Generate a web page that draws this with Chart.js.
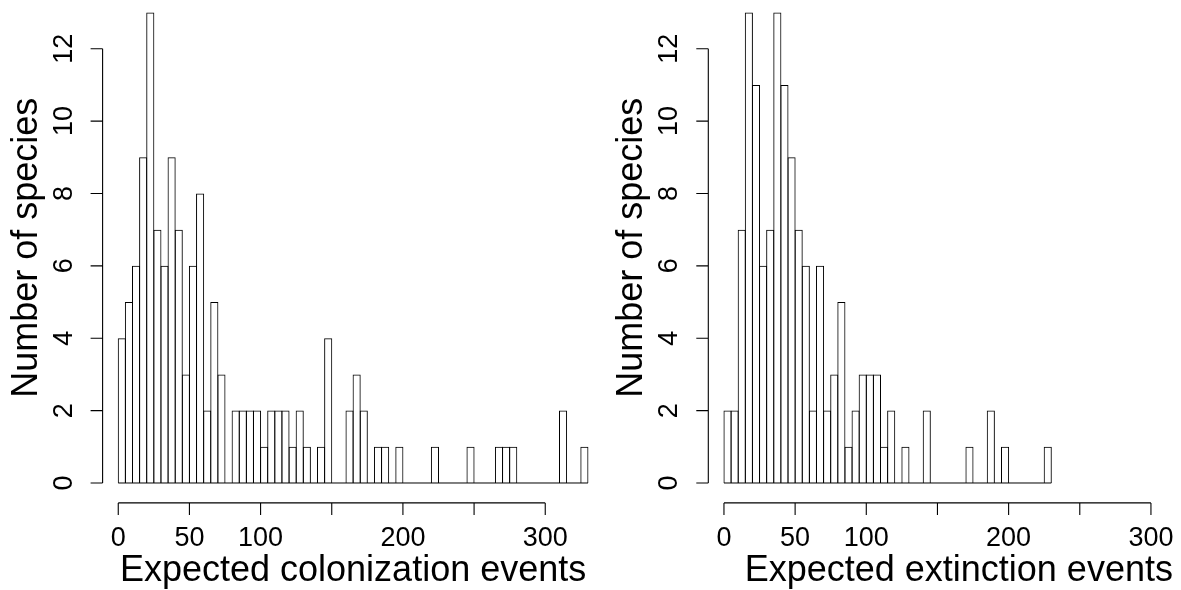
<!DOCTYPE html>
<html lang="en">
  <head>
    <meta charset="UTF-8" />
    <title>Expected colonization and extinction events</title>
    <script src="https://cdn.jsdelivr.net/npm/chart.js"></script>
    <style>
      html, body {
        margin: 0;
        padding: 0;
        background: #fff;
        overflow: hidden;
      }
      #wrap {
        position: relative;
        width: 1181px;
        height: 590px;
        overflow: hidden;
      }
      canvas {
        position: absolute;
        top: 0;
      }
      #colChart { left: 0px; }
      #extChart { left: 590px; }
    </style>
  </head>
  <body>
    <div id="wrap">
      <canvas id="colChart" width="620" height="590"></canvas>
      <canvas id="extChart" width="630" height="590"></canvas>
    </div>

    <script>
      // histogram bins: 5 wide, first bin starts at 0
      const binWidth = 5;
      const colonizationCounts = [
        4, 5, 6, 9, 13, 7, 6, 9, 7, 3,
        6, 8, 2, 5, 3, 0, 2, 2, 2, 2,
        1, 2, 2, 2, 1, 2, 1, 0, 1, 4,
        0, 0, 2, 3, 2, 0, 1, 1, 0, 1,
        0, 0, 0, 0, 1, 0, 0, 0, 0, 1,
        0, 0, 0, 1, 1, 1, 0, 0, 0, 0,
        0, 0, 2, 0, 0, 1
      ];
      const extinctionCounts = [
        2, 2, 7, 13, 11, 6, 7, 13, 11, 9,
        7, 6, 2, 6, 2, 3, 5, 1, 2, 3,
        3, 3, 1, 2, 0, 1, 0, 0, 2, 0,
        0, 0, 0, 0, 1, 0, 0, 2, 0, 1,
        0, 0, 0, 0, 0, 1
      ];
      const xTicks = [0, 50, 100, 150, 200, 250, 300];
      const xTickLabels = ["0", "50", "100", "", "200", "", "300"];
      const yTicks = [0, 2, 4, 6, 8, 10, 12];

      const FONT = '"Liberation Sans", Arial, sans-serif';
      const INK = "#000";

      function toBins(counts) {
        return counts.map((c, i) => ({ x: i * binWidth + binWidth / 2, y: c }));
      }

      // R-style axes: lines only span the tick range, y labels turned on their side
      const baseAxes = {
        id: "baseAxes",
        afterDraw(chart, args, opts) {
          const { ctx, chartArea } = chart;
          const x = chart.scales.x;
          const y = chart.scales.y;
          const ax = chartArea.left;
          const ay = chartArea.bottom;

          ctx.save();
          ctx.strokeStyle = INK;
          ctx.fillStyle = INK;
          ctx.lineWidth = 1.1;

          ctx.beginPath();
          ctx.moveTo(ax, y.getPixelForValue(yTicks[0]));
          ctx.lineTo(ax, y.getPixelForValue(yTicks[yTicks.length - 1]));
          yTicks.forEach((t) => {
            const py = y.getPixelForValue(t);
            ctx.moveTo(ax, py);
            ctx.lineTo(ax - 12, py);
          });
          ctx.moveTo(x.getPixelForValue(xTicks[0]), ay);
          ctx.lineTo(x.getPixelForValue(xTicks[xTicks.length - 1]), ay);
          xTicks.forEach((t) => {
            const px = x.getPixelForValue(t);
            ctx.moveTo(px, ay);
            ctx.lineTo(px, ay + 12);
          });
          ctx.stroke();

          ctx.font = "27px " + FONT;
          ctx.textAlign = "center";
          ctx.textBaseline = "alphabetic";
          xTicks.forEach((t, i) => {
            ctx.fillText(xTickLabels[i], x.getPixelForValue(t), ay + 43);
          });
          yTicks.forEach((t) => {
            ctx.save();
            ctx.translate(ax - 31, y.getPixelForValue(t));
            ctx.rotate(-Math.PI / 2);
            ctx.fillText(String(t), 0, 0);
            ctx.restore();
          });

          ctx.font = "36px " + FONT;
          ctx.fillText(opts.xTitle, (chartArea.left + chartArea.right) / 2, ay + 78);
          ctx.save();
          ctx.translate(ax - 66, y.getPixelForValue(6.5));
          ctx.rotate(-Math.PI / 2);
          ctx.fillText(opts.yTitle, 0, 0);
          ctx.restore();

          ctx.restore();
        },
      };

      function makeHist(canvasId, counts, xTitle, padding) {
        const lastBreak = counts.length * binWidth;
        return new Chart(document.getElementById(canvasId), {
          type: "bar",
          data: {
            datasets: [
              {
                type: "bar",
                data: toBins(counts),
                backgroundColor: "rgba(0,0,0,0)",
                borderColor: INK,
                borderWidth: 1,
                borderSkipped: "start",
                // a bit over 1 so neighbouring borders land on the same pixel
                barPercentage: 1.14,
                categoryPercentage: 1,
              },
              {
                // baseline under the bins, drawn like R's zero-height rects
                type: "line",
                data: [{ x: 0, y: 0 }, { x: lastBreak, y: 0 }],
                borderColor: INK,
                borderWidth: 1,
                pointRadius: 0,
              },
            ],
          },
          options: {
            responsive: false,
            animation: false,
            events: [],
            clip: false,
            layout: { padding: padding },
            plugins: {
              legend: { display: false },
              tooltip: { enabled: false },
              baseAxes: { xTitle: xTitle, yTitle: "Number of species" },
            },
            scales: {
              x: { type: "linear", min: -11, max: 341, offset: false, display: false },
              y: { min: -0.55, max: 13.07, display: false },
            },
          },
          plugins: [baseAxes],
        });
      }

      makeHist("colChart", colonizationCounts, "Expected colonization events",
        { left: 102.6, right: 16.4, top: 10, bottom: 87.1 });
      makeHist("extChart", extinctionCounts, "Expected extinction events",
        { left: 118.3, right: 10.7, top: 10, bottom: 87.1 });
    </script>
  </body>
</html>
